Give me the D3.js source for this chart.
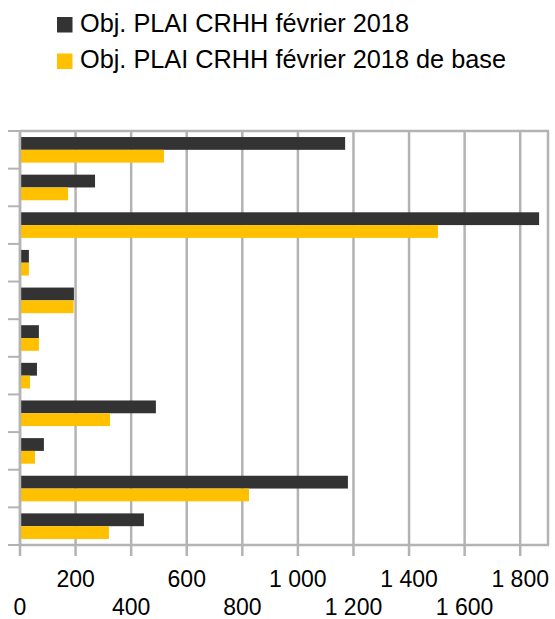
<!DOCTYPE html>
<html>
<head>
<meta charset="utf-8">
<script src="https://cdn.jsdelivr.net/npm/d3@7/dist/d3.min.js"></script>
<style>
  html, body { margin: 0; padding: 0; background: #ffffff; }
  svg { display: block; font-family: "Liberation Sans", Arial, sans-serif; }
</style>
</head>
<body>
<svg id="chart" width="555" height="619"></svg>
<script>
const categories = ["c1","c2","c3","c4","c5","c6","c7","c8","c9","c10","c11"];
const seriesNames = ["Obj. PLAI CRHH février 2018", "Obj. PLAI CRHH février 2018 de base"];
const objFev2018 = [1170, 270, 1868, 32, 194, 68, 61, 489, 86, 1180, 446];
const objFev2018Base = [518, 173, 1504, 32, 193, 68, 36, 324, 54, 824, 320];
const tickValues = [0, 200, 400, 600, 800, 1000, 1200, 1400, 1600, 1800];
const colors = ["#333333", "#ffc000"];

(function () {
const svg = d3.select("#chart");
const pL = 20, pR = 548, pT = 131, pB = 545;
const grid = "#b3b3b3";

const x = d3.scaleLinear().domain([0, 1900]).range([pL, pR]);
const y = d3.scaleBand().domain(categories).range([pT, pB]).paddingInner(0.32).paddingOuter(0.16);
const sub = d3.scaleBand().domain([0, 1]).range([0, y.bandwidth()]);

const fr = d3.formatLocale({decimal: ",", thousands: " ", grouping: [3], currency: ["", " €"]});
const fmt = fr.format(",d");

// gridlines
svg.append("g").selectAll("line").data(tickValues).join("line")
  .attr("x1", d => x(d)).attr("x2", d => x(d))
  .attr("y1", pT).attr("y2", pB)
  .attr("stroke", grid).attr("stroke-width", 2.5);

// plot border top & right
svg.append("line").attr("x1", pL).attr("x2", pR + 1).attr("y1", pT).attr("y2", pT)
  .attr("stroke", grid).attr("stroke-width", 2.5);
svg.append("line").attr("x1", pR).attr("x2", pR).attr("y1", pT).attr("y2", pB)
  .attr("stroke", grid).attr("stroke-width", 2.5);

// bars
const series = [objFev2018, objFev2018Base];
series.forEach((vals, si) => {
  svg.append("g").selectAll("rect").data(vals).join("rect")
    .attr("x", x(0))
    .attr("y", (d, i) => y(categories[i]) + sub(si))
    .attr("width", d => x(d) - x(0))
    .attr("height", sub.bandwidth())
    .attr("fill", colors[si]);
});

// left axis
const yAxisTicks = d3.range(categories.length + 1).map(i => pT + i * (pB - pT) / categories.length);
svg.append("line").attr("x1", pL).attr("x2", pL).attr("y1", pT).attr("y2", pB)
  .attr("stroke", grid).attr("stroke-width", 2.5);
svg.append("g").selectAll("line").data(yAxisTicks).join("line")
  .attr("x1", 8).attr("x2", pL).attr("y1", d => d).attr("y2", d => d)
  .attr("stroke", grid).attr("stroke-width", 2);

// bottom axis
svg.append("line").attr("x1", pL).attr("x2", pR + 1).attr("y1", pB).attr("y2", pB)
  .attr("stroke", grid).attr("stroke-width", 2.5);
svg.append("g").selectAll("line").data(tickValues).join("line")
  .attr("x1", d => x(d)).attr("x2", d => x(d)).attr("y1", pB).attr("y2", 556)
  .attr("stroke", grid).attr("stroke-width", 2.5);
svg.append("g").selectAll("text").data(tickValues).join("text")
  .attr("x", d => x(d))
  .attr("y", (d, i) => i % 2 === 0 ? 615 : 587)
  .attr("text-anchor", "middle")
  .attr("font-size", 23)
  .attr("fill", "#000")
  .text(d => fmt(d));

// legend
const legend = svg.append("g");
seriesNames.forEach((name, i) => {
  const cy = 24.5 + i * 36.5;
  legend.append("rect").attr("x", 57).attr("y", cy - 7.5).attr("width", 15.5).attr("height", 15.5).attr("fill", colors[i]);
  legend.append("text").attr("x", 80).attr("y", cy + 7).attr("font-size", 25.3).attr("fill", "#000").text(name);
});
})();
</script>
</body>
</html>
